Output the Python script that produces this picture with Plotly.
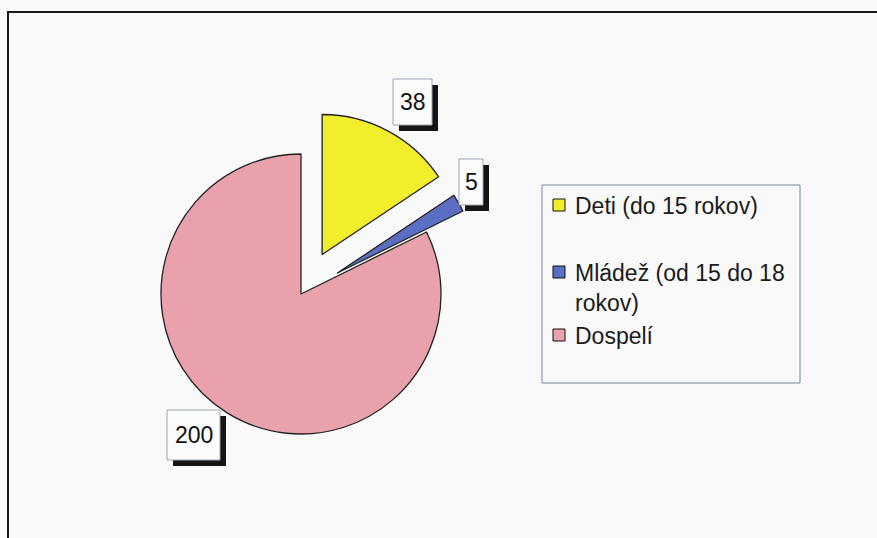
import plotly.graph_objects as go

categories = ["Deti (do 15 rokov)", "Mládež (od 15 do 18 rokov)", "Dospelí"]
legend_labels = ["Deti (do 15 rokov)", "Mládež (od 15 do 18<br>rokov)", "Dospelí"]
values = [38, 5, 200]
colors = ["#f3ee2c", "#5a6fc4", "#e9a1ab"]
pulls = [0.32, 0.30, 0.0]

W, H = 877, 538
def px(x):
    return x / W
def py(y):
    return 1 - y / H

# pie geometry (pixels)
cx, cy, r = 301, 294, 140
ext = r * (1 + max(pulls))

fig = go.Figure()
fig.add_trace(go.Pie(
    labels=categories, values=values, sort=False, direction="clockwise", rotation=0,
    pull=pulls, textinfo="none", hoverinfo="label+value",
    marker=dict(colors=colors, line=dict(color="#222222", width=1.3)),
    domain=dict(x=[px(cx - ext), px(cx + ext)], y=[py(cy + ext), py(cy - ext)]),
    showlegend=False,
))

# data label boxes: (left, top, right, bottom) in pixels
label_boxes = [(393, 79, 432, 125), (459, 159, 483, 205), (167, 410, 220, 460)]
shadow = 6

shapes = [
    # outer chart frame
    dict(type="rect", xref="paper", yref="paper", x0=px(8), x1=1.02, y0=-0.02, y1=py(12),
         line=dict(color="#1a1a1a", width=2), fillcolor="rgba(0,0,0,0)"),
    # legend box
    dict(type="rect", xref="paper", yref="paper", x0=px(542), x1=px(800), y0=py(383), y1=py(185),
         line=dict(color="#6f8c9c", width=1), fillcolor="rgba(0,0,0,0)"),
]
annotations = []
for v, (l, t, rr, b) in zip(values, label_boxes):
    shapes.append(dict(type="rect", xref="paper", yref="paper",
                       x0=px(l + shadow), x1=px(rr + shadow), y0=py(b + shadow), y1=py(t + shadow),
                       fillcolor="#151515", line=dict(width=0)))
    shapes.append(dict(type="rect", xref="paper", yref="paper",
                       x0=px(l), x1=px(rr), y0=py(b), y1=py(t),
                       fillcolor="#fbfbfb", line=dict(color="#9aa6b0", width=1)))
    annotations.append(dict(
        x=px((l + rr) / 2), y=py((t + b) / 2), xref="paper", yref="paper", showarrow=False,
        xanchor="center", yanchor="middle",
        text=str(v), font=dict(family="Liberation Sans, Arial", size=23, color="#111111"),
    ))

legend_y = [205, 272, 335]
for lbl, col, ly in zip(legend_labels, colors, legend_y):
    shapes.append(dict(type="rect", xref="paper", yref="paper",
                       x0=px(553), x1=px(565), y0=py(ly + 6), y1=py(ly - 6),
                       fillcolor=col, line=dict(color="#111111", width=1)))
    annotations.append(dict(
        x=px(573), y=py(ly - 14), xref="paper", yref="paper", showarrow=False,
        xanchor="left", yanchor="top", align="left",
        text=lbl, font=dict(family="Liberation Sans, Arial", size=23, color="#1a1a1a"),
    ))

fig.update_layout(
    width=W, height=H, margin=dict(l=0, r=0, t=0, b=0),
    paper_bgcolor="#f9f9f9", plot_bgcolor="#f9f9f9",
    shapes=shapes, annotations=annotations, showlegend=False,
)

fig.write_html("out.html", config={"displayModeBar": False},
               post_script="document.body.style.margin='0';document.body.style.overflow='hidden';")
